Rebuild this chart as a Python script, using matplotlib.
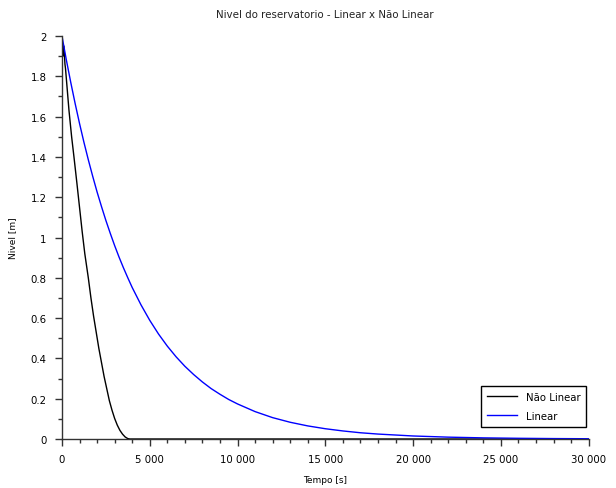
import matplotlib
matplotlib.use("Agg")
import matplotlib.pyplot as plt
from matplotlib.ticker import MultipleLocator, FuncFormatter

# values
t_nao_linear = [0, 60, 110, 170, 200, 400, 550, 683, 850, 1000, 1150, 1300,
                1500, 1650, 1800, 1950, 2100, 2250, 2400, 2550, 2700, 2850,
                3000, 3150, 3300, 3450, 3600, 3750, 3870, 27000]
h_nao_linear = [2.00, 1.90, 1.95, 1.86, 1.84, 1.63, 1.50, 1.40, 1.27, 1.15,
                1.03, 0.92, 0.80, 0.70, 0.61, 0.53, 0.45, 0.38, 0.31, 0.25,
                0.19, 0.143, 0.102, 0.069, 0.043, 0.024, 0.010, 0.002, 0.0,
                0.0]

t_linear = [0, 250, 500, 750, 1000, 1250, 1500, 1750, 2000, 2250, 2500, 2750,
            3000, 3250, 3500, 3750, 4000, 4500, 5000, 5500, 6000, 6500, 7000,
            7500, 8000, 8500, 9000, 9500, 10000, 11000, 12000, 13000, 14000,
            15000, 16000, 17000, 18000, 20000, 22000, 24000, 26000, 28000,
            30000]
h_linear = [2.0, 1.881, 1.77, 1.665, 1.566, 1.473, 1.386, 1.304, 1.226,
            1.154, 1.085, 1.021, 0.960, 0.903, 0.850, 0.800, 0.752, 0.666,
            0.589, 0.521, 0.461, 0.408, 0.361, 0.320, 0.283, 0.250, 0.222,
            0.196, 0.174, 0.136, 0.106, 0.083, 0.065, 0.051, 0.040, 0.031,
            0.0245, 0.015, 0.0092, 0.0056, 0.0035, 0.0021, 0.0013]

titulo = "Nivel do reservatorio - Linear x Não Linear"
rotulo_x = "Tempo [s]"
rotulo_y = "Nivel [m]"

plt.rcParams['font.family'] = ['DejaVu Sans']

fig = plt.figure(figsize=(6.16, 4.89), dpi=100)
ax = fig.add_axes([0.1006, 0.1002, 0.8550, 0.8241])

ax.plot(t_nao_linear, h_nao_linear, color='black', lw=1.0, label='Não Linear')
ax.plot(t_linear, h_linear, color='#0000ff', lw=1.0, label='Linear')

ax.set_xlim(0, 30000)
ax.set_ylim(0, 2)

ax.xaxis.set_major_locator(MultipleLocator(5000))
ax.xaxis.set_minor_locator(MultipleLocator(1000))
ax.yaxis.set_major_locator(MultipleLocator(0.2))
ax.yaxis.set_minor_locator(MultipleLocator(0.1))
ax.xaxis.set_major_formatter(FuncFormatter(lambda v, p: f"{int(round(v)):,}".replace(',', ' ')))
ax.yaxis.set_major_formatter(FuncFormatter(lambda v, p: f"{v:g}"))

for s in ['top', 'right']:
    ax.spines[s].set_visible(False)
for s in ['left', 'bottom']:
    ax.spines[s].set_color('#333333')
    ax.spines[s].set_linewidth(1.0)

ax.tick_params(which='major', direction='out', length=5, width=1,
               color='#333333', labelsize=7.3, pad=6)
ax.tick_params(which='minor', direction='out', length=3, width=1,
               color='#333333')

ax.set_title(titulo, fontsize=7.4, pad=14, color='#222222')
ax.set_xlabel(rotulo_x, fontsize=6.5, labelpad=8)
ax.set_ylabel(rotulo_y, fontsize=6.5, labelpad=10)

leg = ax.legend(loc='lower right', bbox_to_anchor=(1.005, 0.017), fontsize=7.3,
                fancybox=False, framealpha=1, edgecolor='black',
                handlelength=3.0, borderpad=0.6, labelspacing=0.9)
leg.get_frame().set_linewidth(1.0)

fig.savefig("out.png", dpi=100)
